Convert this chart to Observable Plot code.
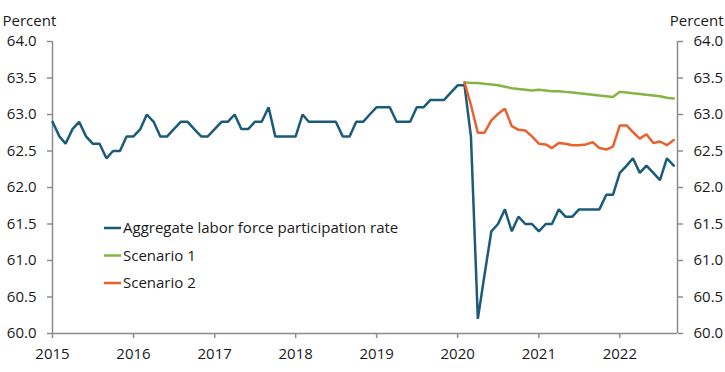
<!DOCTYPE html>
<html>
<head>
<meta charset="utf-8">
<script src="https://cdn.jsdelivr.net/npm/d3@7"></script>
<script src="https://cdn.jsdelivr.net/npm/@observablehq/plot@0.6"></script>
<style>
  html, body { margin: 0; padding: 0; background: #fff; }
  #chart { width: 725px; height: 372px; }
</style>
</head>
<body>
<div id="chart"></div>
<script>
// ---- Data (monthly) ----
const lfprStart = "2015-01-01";
const lfpr = [
  62.9, 62.7, 62.6, 62.8, 62.9, 62.7, 62.6, 62.6, 62.4, 62.5, 62.5, 62.7, // 2015
  62.7, 62.8, 63.0, 62.9, 62.7, 62.7, 62.8, 62.9, 62.9, 62.8, 62.7, 62.7, // 2016
  62.8, 62.9, 62.9, 63.0, 62.8, 62.8, 62.9, 62.9, 63.1, 62.7, 62.7, 62.7, // 2017
  62.7, 63.0, 62.9, 62.9, 62.9, 62.9, 62.9, 62.7, 62.7, 62.9, 62.9, 63.0, // 2018
  63.1, 63.1, 63.1, 62.9, 62.9, 62.9, 63.1, 63.1, 63.2, 63.2, 63.2, 63.3, // 2019
  63.4, 63.4, 62.7, 60.2, 60.8, 61.4, 61.5, 61.7, 61.4, 61.6, 61.5, 61.5, // 2020
  61.4, 61.5, 61.5, 61.7, 61.6, 61.6, 61.7, 61.7, 61.7, 61.7, 61.9, 61.9, // 2021
  62.2, 62.3, 62.4, 62.2, 62.3, 62.2, 62.1, 62.4, 62.3                    // 2022
];
const scenarioStart = "2020-02-01";
const scenario1 = [
  63.44, 63.43, 63.43, 63.42, 63.41, 63.40, 63.38, 63.36, 63.35, 63.34, 63.33,
  63.34, 63.33, 63.32, 63.32, 63.31, 63.30, 63.29, 63.28, 63.27, 63.26, 63.25, 63.24,
  63.31, 63.30, 63.29, 63.28, 63.27, 63.26, 63.25, 63.23, 63.22
];
const scenario2 = [
  63.44, 63.13, 62.75, 62.75, 62.92, 63.01, 63.08, 62.84, 62.79, 62.78, 62.70,
  62.60, 62.59, 62.54, 62.61, 62.60, 62.58, 62.58, 62.59, 62.62, 62.54, 62.52, 62.56,
  62.85, 62.85, 62.76, 62.67, 62.73, 62.61, 62.63, 62.58, 62.65
];
const seriesNames = ["Aggregate labor force participation rate", "Scenario 1", "Scenario 2"];
const seriesColors = ["#1b5b7a", "#85b440", "#e9612e"];
const yTicks = [60.0, 60.5, 61.0, 61.5, 62.0, 62.5, 63.0, 63.5, 64.0];
const yDomain = [60, 64];
const xTickYears = [2015, 2016, 2017, 2018, 2019, 2020, 2021, 2022];
const xDomain = ["2015-01-01", "2022-09-18"];
const axisTitle = "Percent";

// ---- Build table ----
function seriesRows(name, start, values) {
  const s = new Date(start);
  return values.map((v, i) => ({series: name, date: d3.utcMonth.offset(s, i), value: v}));
}
const rows = [
  ...seriesRows(seriesNames[0], lfprStart, lfpr),
  ...seriesRows(seriesNames[1], scenarioStart, scenario1),
  ...seriesRows(seriesNames[2], scenarioStart, scenario2)
];
const xDates = xDomain.map(d => new Date(d));
const xTicks = xTickYears.map(y => new Date(Date.UTC(y, 0, 1)));

const font = "'Open Sans', sans-serif";
const fs = 15;
const axisColor = "#8c8c8c";
const textColor = "#1a1a1a";

const plot = Plot.plot({
  width: 725,
  height: 372,
  marginTop: 41,
  marginBottom: 39,
  marginLeft: 52,
  marginRight: 48,
  style: {fontFamily: font, fontSize: fs + "px", color: textColor, background: "#fff", overflow: "visible"},
  x: {type: "utc", domain: xDates, label: null},
  y: {domain: yDomain, label: null},
  color: {domain: seriesNames, range: seriesColors},
  marks: [
    Plot.ruleX(xDates, {stroke: axisColor, strokeWidth: 1.5}),
    Plot.ruleY([yDomain[0]], {stroke: axisColor, strokeWidth: 1.5}),
    Plot.axisY({anchor: "left", ticks: yTicks, tickFormat: d3.format(".1f"), tickSize: 5, tickPadding: 11, stroke: axisColor, strokeWidth: 1.5, fill: textColor, fontSize: fs, label: null}),
    Plot.axisY({anchor: "right", ticks: yTicks, tickFormat: d3.format(".1f"), tickSize: 5, tickPadding: 11, stroke: axisColor, strokeWidth: 1.5, fill: textColor, fontSize: fs, label: null}),
    Plot.axisX({ticks: xTicks, tickFormat: d3.utcFormat("%Y"), tickSize: 5, tickPadding: 10, stroke: axisColor, strokeWidth: 1.5, fill: textColor, fontSize: fs, label: null}),
    Plot.line(rows, {x: "date", y: "value", z: "series", stroke: "series", strokeWidth: 2.5, strokeLinejoin: "miter"}),
    Plot.text([axisTitle], {frameAnchor: "top-left", textAnchor: "start", dx: -50, dy: -26, fill: textColor, fontSize: fs}),
    Plot.text([axisTitle], {frameAnchor: "top-right", textAnchor: "end", dx: 46, dy: -26, fill: textColor, fontSize: fs})
  ]
});

// ---- Legend inside the plot area ----
const svg = d3.select(plot);
const lg = svg.append("g").attr("font-family", font).attr("font-size", fs + "px")
  .attr("fill", textColor).attr("text-anchor", "start");
seriesNames.forEach((name, i) => {
  const y = 228 + i * 27.5;
  lg.append("line").attr("x1", 104).attr("x2", 121).attr("y1", y).attr("y2", y)
    .attr("stroke", seriesColors[i]).attr("stroke-width", 2.5);
  lg.append("text").attr("x", 123).attr("y", y).attr("dy", "0.35em").text(name);
});

document.getElementById("chart").appendChild(plot);
</script>
</body>
</html>
